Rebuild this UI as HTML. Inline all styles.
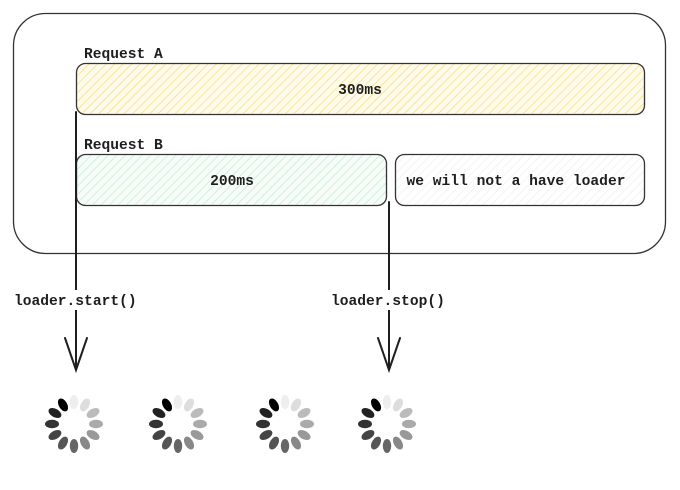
<!DOCTYPE html>
<html><head><style>
html,body{margin:0;padding:0;background:#fff;width:680px;height:490px;overflow:hidden}
text{font-family:"Liberation Mono",monospace;font-size:14.6px;font-weight:bold;fill:#1e1e1e}
</style></head><body>
<svg width="680" height="490" viewBox="0 0 680 490" xmlns="http://www.w3.org/2000/svg">
<defs>
<pattern id="hy" width="6" height="6" patternUnits="userSpaceOnUse" patternTransform="rotate(45)">
<rect width="6" height="6" fill="#fffbe8"/><line x1="0" y1="0" x2="0" y2="6" stroke="#f0d77a" stroke-width="1.2"/></pattern>
<pattern id="hg" width="6" height="6" patternUnits="userSpaceOnUse" patternTransform="rotate(45)">
<rect width="6" height="6" fill="#f6fcf8"/><line x1="0" y1="0" x2="0" y2="6" stroke="#bfe6cc" stroke-width="1.2"/></pattern>
<pattern id="hw" width="6" height="6" patternUnits="userSpaceOnUse" patternTransform="rotate(45)">
<rect width="6" height="6" fill="#fff"/><line x1="0" y1="0" x2="0" y2="6" stroke="#ececec" stroke-width="1.2"/></pattern>
<g id="sp">
<ellipse cx="0" cy="-22" rx="4.2" ry="7" fill="#eee" transform="rotate(0)"/>
<ellipse cx="0" cy="-22" rx="4.2" ry="7" fill="#ddd" transform="rotate(30)"/>
<ellipse cx="0" cy="-22" rx="4.2" ry="7" fill="#bbb" transform="rotate(60)"/>
<ellipse cx="0" cy="-22" rx="4.2" ry="7" fill="#aaa" transform="rotate(90)"/>
<ellipse cx="0" cy="-22" rx="4.2" ry="7" fill="#999" transform="rotate(120)"/>
<ellipse cx="0" cy="-22" rx="4.2" ry="7" fill="#888" transform="rotate(150)"/>
<ellipse cx="0" cy="-22" rx="4.2" ry="7" fill="#666" transform="rotate(180)"/>
<ellipse cx="0" cy="-22" rx="4.2" ry="7" fill="#555" transform="rotate(210)"/>
<ellipse cx="0" cy="-22" rx="4.2" ry="7" fill="#444" transform="rotate(240)"/>
<ellipse cx="0" cy="-22" rx="4.2" ry="7" fill="#333" transform="rotate(270)"/>
<ellipse cx="0" cy="-22" rx="4.2" ry="7" fill="#222" transform="rotate(300)"/>
<ellipse cx="0" cy="-22" rx="4.2" ry="7" fill="#000" transform="rotate(330)"/>
</g>
</defs>
<rect x="13.5" y="13.5" width="652" height="240" rx="32" fill="none" stroke="#333" stroke-width="1.3"/>
<text x="84" y="58">Request A</text>
<rect x="76.5" y="63.5" width="568" height="51" rx="9" fill="url(#hy)" stroke="#333" stroke-width="1.3"/>
<text x="360" y="94" text-anchor="middle">300ms</text>
<text x="84" y="149">Request B</text>
<rect x="76.5" y="154.5" width="310" height="51" rx="9" fill="url(#hg)" stroke="#333" stroke-width="1.3"/>
<text x="232" y="185" text-anchor="middle">200ms</text>
<rect x="395.5" y="154.5" width="249" height="51" rx="9" fill="url(#hw)" stroke="#333" stroke-width="1.3"/>
<text x="516" y="185" text-anchor="middle">we will not a have loader</text>
<g stroke="#1e1e1e" stroke-width="2" fill="none" stroke-linecap="round">
<line x1="76" y1="112" x2="76" y2="369"/>
<polyline points="65,338 76,370 87,338"/>
<line x1="389" y1="202" x2="389" y2="369"/>
<polyline points="378,338 389,370 400,338"/>
</g>
<rect x="10" y="290" width="132" height="20" fill="#fff"/>
<rect x="327" y="290" width="122" height="20" fill="#fff"/>
<text x="14" y="305">loader.start()</text>
<text x="331" y="305">loader.stop()</text>
<use href="#sp" x="74" y="424"/>
<use href="#sp" x="178" y="424"/>
<use href="#sp" x="285" y="424"/>
<use href="#sp" x="387" y="424"/>
</svg>
</body></html>
